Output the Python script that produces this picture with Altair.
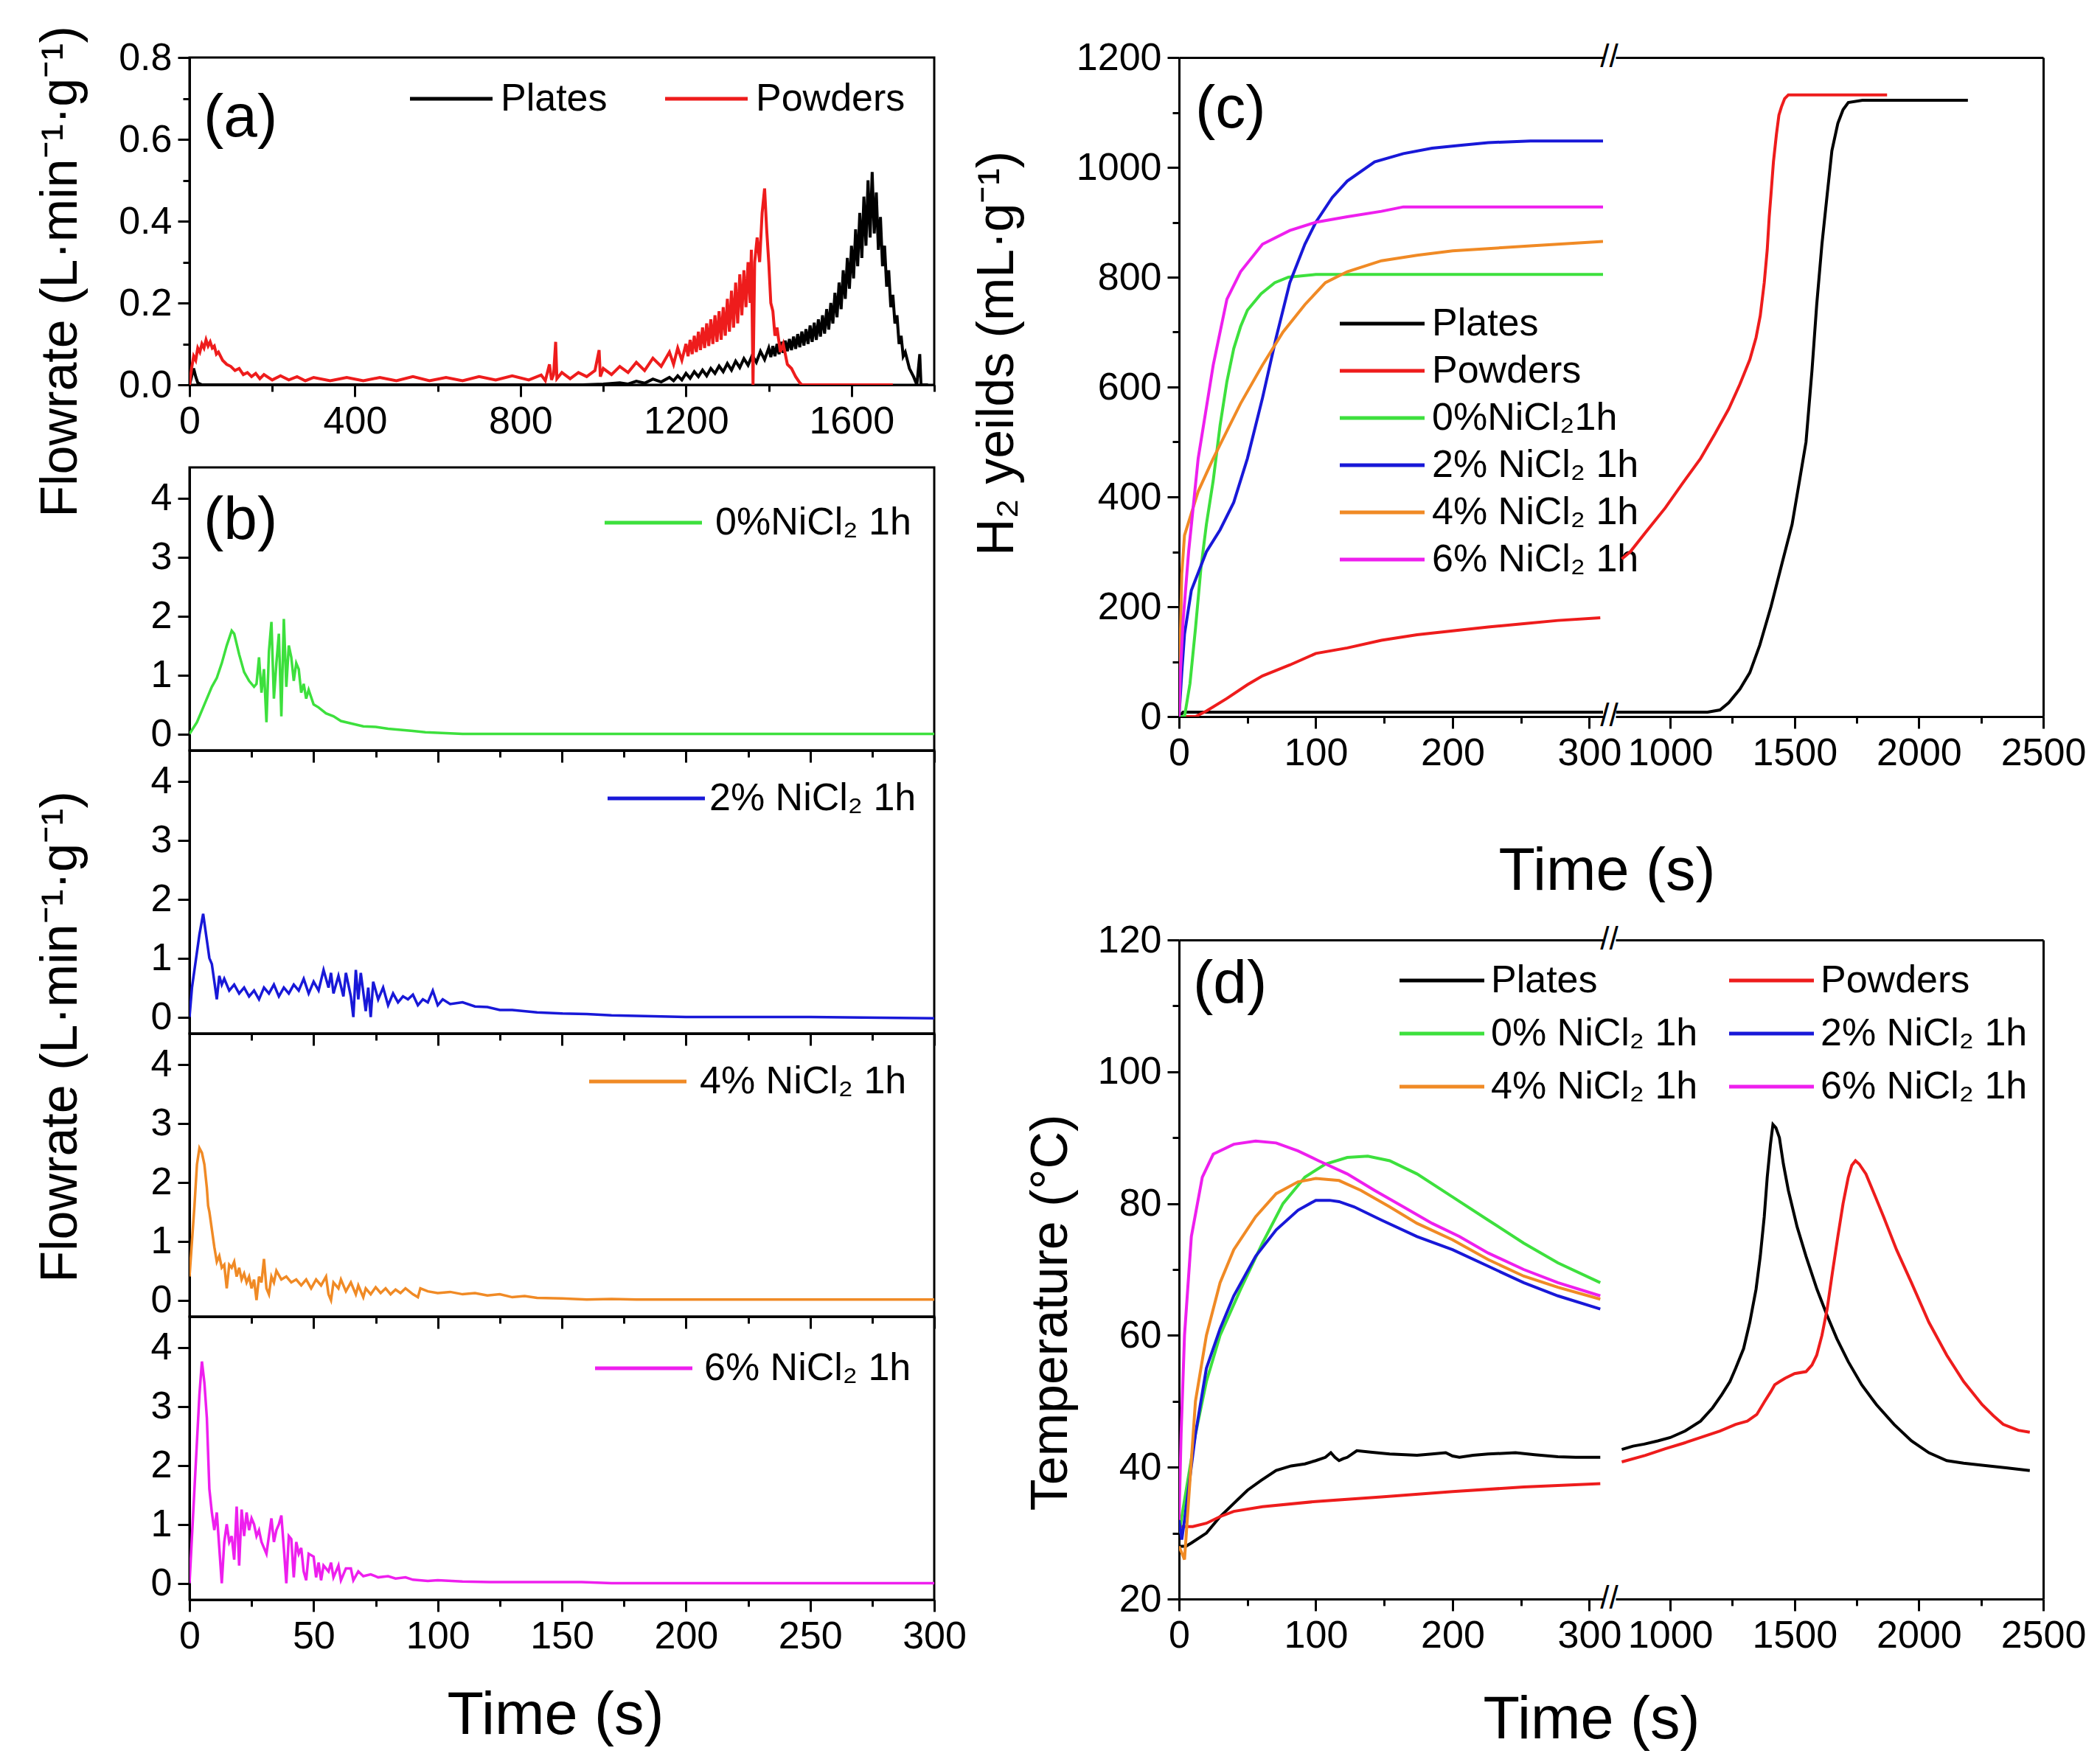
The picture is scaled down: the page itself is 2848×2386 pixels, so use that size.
import json
import math
import altair as alt
import pandas as pd

FONT = "Liberation Sans"
BLACK = "#000000"
RED = "#ee1c1c"
GREEN = "#3de03d"
BLUE = "#1818d8"
ORANGE = "#f08a25"
MAGENTA = "#ee1fee"

NB = "\u00a0"

# ---------------- (a) flowrate, plates vs powders ----------------
A_SERIES = ["Plates", "Powders"]
A_PLATES = [(0, 0), (5, 0.02), (10, 0.04), (15, 0.02), (20, 0.005), (30, 0), (300, 0), (700, 0), (950, 0),
            (1000, 0.002), (1040, 0.005), (1060, 0.002), (1080, 0.009), (1100, 0.004), (1120, 0.014),
            (1140, 0.007), (1160, 0.018), (1170, 0.01), (1180, 0.022), (1190, 0.012), (1200, 0.028),
            (1210, 0.016), (1220, 0.032), (1230, 0.02), (1240, 0.036), (1250, 0.022), (1260, 0.04),
            (1270, 0.028), (1280, 0.046), (1290, 0.032), (1300, 0.052), (1310, 0.036), (1320, 0.058),
            (1330, 0.042), (1340, 0.064), (1350, 0.048), (1360, 0.072), (1370, 0.055), (1380, 0.082),
            (1390, 0.062), (1400, 0.09), (1405, 0.068), (1410, 0.095), (1415, 0.07), (1420, 0.1),
            (1425, 0.075), (1430, 0.105), (1435, 0.078), (1440, 0.108), (1445, 0.082), (1450, 0.112),
            (1455, 0.085), (1460, 0.118), (1465, 0.088), (1470, 0.124), (1475, 0.092), (1480, 0.13),
            (1485, 0.096), (1490, 0.136), (1495, 0.1), (1500, 0.145), (1505, 0.105), (1510, 0.152),
            (1515, 0.11), (1520, 0.16), (1525, 0.118), (1530, 0.17), (1535, 0.125), (1540, 0.185),
            (1545, 0.135), (1550, 0.2), (1555, 0.15), (1560, 0.225), (1565, 0.165), (1570, 0.25),
            (1575, 0.185), (1580, 0.28), (1585, 0.21), (1590, 0.31), (1595, 0.235), (1600, 0.34),
            (1605, 0.26), (1610, 0.38), (1615, 0.29), (1620, 0.42), (1625, 0.31), (1630, 0.46),
            (1635, 0.34), (1640, 0.5), (1645, 0.36), (1650, 0.52), (1655, 0.37), (1660, 0.47),
            (1665, 0.33), (1670, 0.41), (1675, 0.29), (1680, 0.34), (1685, 0.24), (1690, 0.28),
            (1695, 0.19), (1700, 0.22), (1705, 0.15), (1710, 0.17), (1715, 0.1), (1720, 0.12),
            (1725, 0.07), (1730, 0.08), (1740, 0.04), (1750, 0.02), (1758, 0), (1765, 0.075),
            (1768, 0), (1785, 0)]
A_POWDERS = [(0, 0), (5, 0.04), (10, 0.07), (15, 0.06), (20, 0.09), (25, 0.08), (30, 0.1), (35, 0.09),
             (40, 0.11), (45, 0.095), (50, 0.105), (55, 0.09), (60, 0.095), (65, 0.075), (70, 0.08),
             (80, 0.06), (90, 0.05), (100, 0.045), (110, 0.035), (120, 0.04), (130, 0.025), (140, 0.03),
             (150, 0.02), (160, 0.028), (170, 0.015), (180, 0.025), (200, 0.012), (220, 0.022),
             (240, 0.012), (260, 0.02), (280, 0.01), (300, 0.018), (340, 0.01), (380, 0.018),
             (420, 0.01), (460, 0.018), (500, 0.01), (540, 0.02), (580, 0.01), (620, 0.018),
             (660, 0.01), (700, 0.02), (740, 0.012), (780, 0.022), (820, 0.012), (850, 0.024),
             (860, 0.01), (870, 0.05), (875, 0.012), (880, 0.025), (885, 0.105), (888, 0.015),
             (900, 0.03), (920, 0.015), (940, 0.03), (960, 0.02), (980, 0.035), (990, 0.085),
             (993, 0.02), (1000, 0.04), (1020, 0.025), (1040, 0.045), (1060, 0.03), (1080, 0.055),
             (1100, 0.035), (1120, 0.065), (1140, 0.045), (1160, 0.08), (1170, 0.05), (1180, 0.09),
             (1190, 0.06), (1200, 0.1), (1205, 0.07), (1210, 0.11), (1215, 0.075), (1220, 0.12),
             (1225, 0.08), (1230, 0.13), (1235, 0.085), (1240, 0.14), (1245, 0.09), (1250, 0.15),
             (1255, 0.095), (1260, 0.16), (1265, 0.1), (1270, 0.17), (1275, 0.105), (1280, 0.18),
             (1285, 0.11), (1290, 0.19), (1295, 0.12), (1300, 0.21), (1305, 0.13), (1310, 0.23),
             (1315, 0.14), (1320, 0.25), (1325, 0.15), (1330, 0.27), (1335, 0.17), (1340, 0.28),
             (1345, 0.19), (1350, 0.3), (1355, 0.2), (1358, 0.33), (1362, 0.0), (1366, 0.3),
             (1372, 0.36), (1378, 0.3), (1384, 0.42), (1390, 0.48), (1395, 0.38), (1400, 0.3),
             (1405, 0.2), (1410, 0.18), (1415, 0.12), (1420, 0.14), (1428, 0.08), (1435, 0.1),
             (1445, 0.05), (1455, 0.04), (1465, 0.02), (1475, 0.005), (1480, 0), (1700, 0)]

# ---------------- (b) flowrate, NiCl2 samples ----------------
B_LABELS = [NB + "0%NiCl₂ 1h", "2% NiCl₂ 1h", "4% NiCl₂ 1h", "6% NiCl₂ 1h"]
B_COLORS = [GREEN, BLUE, ORANGE, MAGENTA]
B0 = [(0, 0), (3, 0.2), (6, 0.5), (9, 0.8), (11, 0.95), (13, 1.2), (15, 1.5), (17, 1.75), (18, 1.7),
      (20, 1.35), (22, 1.05), (24, 0.9), (26, 0.8), (27, 0.85), (28, 1.3), (29, 0.7), (30, 1.1),
      (31, 0.2), (32, 1.4), (33, 1.9), (34, 0.6), (35, 1.2), (36, 1.7), (37, 0.3), (38, 1.95),
      (39, 0.8), (40, 1.5), (41, 1.3), (42, 0.9), (43, 1.2), (44, 1.1), (45, 0.7), (46, 0.85),
      (47, 0.6), (48, 0.75), (50, 0.5), (52, 0.45), (55, 0.35), (58, 0.3), (61, 0.22), (65, 0.18),
      (70, 0.13), (75, 0.12), (80, 0.09), (85, 0.07), (90, 0.05), (95, 0.03), (100, 0.02),
      (105, 0.01), (110, 0), (150, 0), (200, 0), (250, 0), (300, 0)]
B2 = [(0, 0), (1, 0.5), (3, 1.1), (4, 1.4), (5.5, 1.75), (7, 1.3), (8, 1.0), (9, 0.9), (10, 0.6),
      (11, 0.3), (12, 0.7), (13, 0.55), (14, 0.65), (16, 0.45), (18, 0.55), (20, 0.4), (22, 0.5),
      (24, 0.35), (26, 0.45), (28, 0.3), (30, 0.5), (32, 0.4), (34, 0.55), (36, 0.35), (38, 0.5),
      (40, 0.4), (42, 0.55), (44, 0.45), (46, 0.65), (48, 0.4), (50, 0.6), (52, 0.45), (54, 0.8),
      (56, 0.5), (57, 0.75), (58, 0.4), (60, 0.7), (62, 0.35), (63, 0.75), (65, 0.35), (66, 0.0),
      (67, 0.8), (68, 0.3), (69, 0.75), (71, 0.1), (72, 0.5), (73, 0.0), (74, 0.6), (76, 0.3),
      (78, 0.5), (80, 0.2), (82, 0.4), (84, 0.25), (86, 0.35), (88, 0.3), (90, 0.38), (92, 0.2),
      (94, 0.3), (96, 0.25), (98, 0.45), (100, 0.2), (102, 0.3), (105, 0.22), (110, 0.25),
      (115, 0.18), (120, 0.17), (125, 0.12), (130, 0.12), (140, 0.08), (150, 0.06), (160, 0.05),
      (170, 0.03), (180, 0.02), (200, 0.0), (250, 0.0), (300, -0.02)]
B4 = [(0, 0.4), (1, 1.0), (2, 1.6), (3, 2.3), (4, 2.58), (5, 2.5), (6, 2.3), (7, 1.9), (7.5, 1.6),
      (8, 1.5), (9, 1.2), (10, 0.9), (11, 0.65), (12, 0.75), (13, 0.55), (14, 0.6), (15, 0.2),
      (16, 0.6), (17, 0.55), (18, 0.65), (19, 0.4), (20, 0.55), (21, 0.35), (22, 0.45), (23, 0.3),
      (24, 0.4), (25, 0.2), (26, 0.35), (27, 0.0), (28, 0.4), (29, 0.3), (30, 0.7), (31, 0.2),
      (32, 0.1), (33, 0.4), (34, 0.3), (35, 0.5), (37, 0.35), (39, 0.4), (41, 0.3), (43, 0.35),
      (45, 0.25), (47, 0.35), (49, 0.2), (51, 0.35), (53, 0.25), (55, 0.4), (56, 0.1), (57, 0.0),
      (58, 0.3), (60, 0.2), (61, 0.35), (63, 0.15), (65, 0.3), (67, 0.1), (68, 0.25), (70, 0.05),
      (71, 0.2), (73, 0.1), (75, 0.22), (77, 0.12), (79, 0.2), (81, 0.1), (83, 0.18), (85, 0.12),
      (87, 0.2), (90, 0.1), (92, 0.05), (93, 0.2), (96, 0.15), (100, 0.12), (105, 0.14),
      (110, 0.1), (115, 0.12), (120, 0.08), (125, 0.1), (130, 0.05), (135, 0.07), (140, 0.04),
      (150, 0.03), (160, 0.01), (170, 0.02), (180, 0.01), (200, 0.01), (250, 0.01), (300, 0.01)]
B6 = [(0, 0), (1, 0.8), (2, 1.6), (3, 2.4), (4, 3.2), (5, 3.76), (6, 3.4), (7, 2.8), (8, 1.6),
      (9, 1.2), (10, 0.9), (11, 1.2), (12, 0.6), (13, 0.0), (14, 0.7), (15, 1.0), (16, 0.7),
      (17, 0.8), (18, 0.4), (19, 1.3), (20, 0.3), (21, 1.25), (22, 0.8), (23, 1.2), (24, 0.9),
      (25, 1.1), (26, 1.0), (27, 0.8), (28, 0.9), (29, 0.7), (30, 0.6), (31, 0.5), (32, 0.8),
      (33, 1.1), (34, 0.7), (35, 0.9), (36, 1.0), (37, 1.15), (38, 0.6), (39, 0.0), (40, 0.8),
      (41, 0.75), (42, 0.1), (43, 0.7), (44, 0.5), (45, 0.6), (46, 0.2), (47, 0.05), (48, 0.5),
      (50, 0.45), (51, 0.1), (52, 0.35), (53, 0.05), (54, 0.3), (56, 0.2), (57, 0.35), (58, 0.1),
      (60, 0.3), (61, 0.05), (63, 0.25), (65, 0.25), (66, 0.05), (68, 0.2), (70, 0.12), (73, 0.15),
      (76, 0.1), (80, 0.12), (83, 0.08), (87, 0.1), (90, 0.06), (96, 0.04), (100, 0.05),
      (110, 0.03), (121, 0.02), (140, 0.02), (158, 0.02), (170, 0.0), (200, 0.0), (250, 0.0),
      (300, 0.0)]

# ---------------- (c) H2 yields ----------------
C_LABELS = ["Plates", "Powders", NB + "0%NiCl₂1h", "2% NiCl₂ 1h", "4% NiCl₂ 1h", "6% NiCl₂ 1h"]
C_PLATES = [(0, 0), (3, 8), (50, 8), (150, 8), (250, 8), (310, 8)]
C_POWDERS = [(0, 0), (12, 0), (20, 10), (35, 33), (50, 58), (61, 74), (71, 84), (81, 94), (100, 115),
             (123, 125), (148, 139), (174, 149), (200, 156), (226, 163), (252, 169), (277, 175),
             (308, 180)]
C_0 = [(0, 0), (4, 0), (8, 60), (12, 160), (16, 270), (20, 350), (25, 430), (30, 530), (35, 610),
       (40, 670), (45, 710), (50, 740), (60, 770), (70, 790), (80, 800), (100, 805), (310, 805)]
C_2 = [(0, 0), (2, 80), (4, 150), (9, 230), (20, 300), (30, 340), (40, 390), (50, 470), (61, 580),
       (71, 690), (81, 790), (92, 860), (100, 900), (112, 945), (123, 975), (143, 1010), (164, 1025),
       (185, 1035), (205, 1040), (226, 1045), (257, 1048), (310, 1048)]
C_4 = [(0, 0), (1, 150), (2, 260), (4, 330), (14, 410), (25, 470), (35, 520), (45, 570), (61, 640),
       (76, 700), (92, 750), (107, 790), (123, 810), (148, 830), (174, 840), (200, 848), (226, 852),
       (257, 857), (310, 865)]
C_6 = [(0, 0), (1, 80), (3, 175), (7, 300), (14, 470), (25, 640), (35, 760), (45, 810), (61, 860),
       (81, 885), (100, 900), (123, 910), (148, 920), (164, 928), (310, 928)]
C_PLATES_LATE = [(782, 8), (1150, 8), (1200, 12), (1235, 25), (1280, 50), (1320, 80), (1360, 130),
                 (1405, 200), (1450, 280), (1490, 350), (1520, 430), (1546, 500), (1570, 630),
                 (1589, 750), (1610, 860), (1631, 950), (1650, 1030), (1674, 1080), (1695, 1105),
                 (1716, 1118), (1773, 1122), (2197, 1122)]
C_POWDERS_LATE = [(805, 287), (839, 300), (900, 335), (980, 380), (1050, 425), (1122, 470),
                  (1180, 515), (1235, 560), (1280, 605), (1320, 650), (1345, 690), (1362, 730),
                  (1378, 790), (1390, 850), (1398, 910), (1405, 950), (1415, 1010), (1427, 1060),
                  (1437, 1095), (1447, 1110), (1460, 1125), (1475, 1132), (1872, 1132)]

# ---------------- (d) temperature ----------------
D_LABELS = ["Plates", "Powders", NB + "0% NiCl₂ 1h", "2% NiCl₂ 1h", NB + "4% NiCl₂ 1h", "6% NiCl₂ 1h"]
D_PLATES = [(0, 28), (5, 28), (9, 28.5), (20, 30), (30, 32.5), (40, 34.5), (50, 36.5), (60, 38),
            (71, 39.5), (82, 40.2), (92, 40.5), (100, 41), (107, 41.5), (111, 42.2), (114, 41.5),
            (117, 41), (120, 41.3), (123, 41.5), (130, 42.5), (140, 42.3), (154, 42), (174, 41.8),
            (185, 42), (195, 42.2), (200, 41.7), (205, 41.5), (215, 41.8), (226, 42), (246, 42.2),
            (260, 41.9), (277, 41.6), (290, 41.5), (308, 41.5)]
D_POWDERS = [(0, 31), (10, 31), (20, 31.5), (30, 32.5), (40, 33.3), (61, 34), (100, 34.8), (148, 35.5),
             (200, 36.3), (252, 37), (308, 37.5)]
D_0 = [(0, 30), (4, 35), (12, 45), (20, 53), (30, 60), (45, 67), (61, 74), (76, 80), (92, 84),
       (107, 86), (123, 87), (138, 87.2), (154, 86.5), (174, 84.5), (200, 81), (226, 77.5),
       (252, 74), (277, 71), (308, 68)]
D_2 = [(0, 32), (2, 29), (4, 32), (12, 45), (20, 55), (30, 61), (40, 66), (56, 72), (71, 76), (87, 79),
       (100, 80.5), (110, 80.5), (117, 80.3), (128, 79.5), (148, 77.5), (174, 75), (200, 73),
       (226, 70.5), (252, 68), (277, 66), (308, 64)]
D_4 = [(0, 28), (2, 27), (4, 26), (7, 35), (12, 50), (20, 60), (30, 68), (40, 73), (56, 78), (71, 81.5),
       (87, 83.3), (100, 83.8), (117, 83.5), (133, 82), (154, 79.5), (174, 77), (200, 74.5),
       (226, 71.5), (252, 69), (277, 67.3), (308, 65.5)]
D_6 = [(0, 32), (1.5, 45), (4, 60), (9, 75), (17, 84), (25, 87.5), (40, 89), (56, 89.5), (71, 89.2),
       (87, 88), (102, 86.5), (123, 84.5), (143, 82), (164, 79.5), (185, 77), (205, 75), (226, 72.5),
       (252, 70), (277, 68), (308, 66)]
D_PLATES_LATE = [(805, 42.7), (850, 43.2), (895, 43.5), (950, 44), (1000, 44.5), (1060, 45.5),
                 (1122, 47), (1170, 49), (1207, 51), (1240, 53), (1263, 55), (1295, 58), (1320, 62),
                 (1345, 67), (1362, 72), (1378, 78), (1390, 84), (1403, 89), (1413, 92), (1425, 91.5),
                 (1439, 90), (1455, 86), (1475, 82), (1510, 76.5), (1546, 72), (1590, 67), (1631, 63),
                 (1670, 59.5), (1716, 56), (1770, 52.5), (1829, 49.5), (1900, 46.5), (1970, 44),
                 (2040, 42.2), (2112, 41), (2180, 40.6), (2254, 40.3), (2350, 39.9), (2446, 39.5)]
D_POWDERS_LATE = [(805, 40.8), (900, 41.8), (980, 42.8), (1050, 43.6), (1122, 44.5), (1200, 45.5),
                  (1263, 46.5), (1310, 47), (1348, 48), (1380, 50), (1405, 51.5), (1420, 52.5),
                  (1440, 53), (1462, 53.5), (1500, 54.2), (1546, 54.5), (1570, 55.5), (1589, 57),
                  (1610, 60), (1631, 64), (1652, 69.5), (1674, 75), (1695, 80), (1716, 84),
                  (1730, 85.8), (1745, 86.5), (1760, 86), (1787, 84.5), (1820, 81.5), (1858, 78),
                  (1910, 73), (1970, 68), (2040, 62), (2112, 57), (2180, 53), (2254, 49.5),
                  (2300, 47.8), (2339, 46.5), (2400, 45.6), (2446, 45.3)]

COLORS6 = [BLACK, RED, GREEN, BLUE, ORANGE, MAGENTA]


def to_df(series):
    rows = [{"t": t, "v": v, "s": name} for name, pts in series for t, v in pts]
    return pd.DataFrame(rows)


def qaxis(major, minor, labels=True, fmt="d", **kw):
    vals = sorted(major + minor)
    test = "indexof(%s, datum.value) >= 0" % json.dumps(major)
    args = dict(values=vals, grid=False, labels=labels, labelFlush=False, labelOverlap=False,
                tickSize={"condition": {"test": test, "value": 16}, "value": 9}, format=fmt)
    if labels:
        args["labelExpr"] = "%s ? datum.label : ''" % test
    args.update(kw)
    return alt.Axis(**args)


def legend(x, yc, L, gap, fs=52, direction="vertical", columns=None, rowPadding=10, columnPadding=20):
    size = (L / 5.0) ** 2
    base = math.ceil(math.sqrt(size) + 5)
    kw = dict(orient="none", legendX=x, legendY=yc - base / 2.0, direction=direction, title=None,
              symbolType="M0,0H10", symbolSize=size, symbolStrokeWidth=5, symbolOffset=-base / 2.0,
              labelOffset=L + gap - base, labelFont=FONT, labelFontSize=fs, labelColor="black",
              labelLimit=0, padding=0, rowPadding=rowPadding, columnPadding=columnPadding)
    if columns:
        kw["columns"] = columns
    return alt.Legend(**kw)


def text_layer(txt, x, y, size=82, align="left"):
    return alt.Chart(pd.DataFrame({"lab": [txt]})).mark_text(
        font=FONT, fontSize=size, align=align, baseline="middle", color="black"
    ).encode(x=alt.value(x), y=alt.value(y), text="lab:N")


def top_axis_layer(df, scale):
    return alt.Chart(df).mark_point(opacity=0, size=1).encode(
        x=alt.X("t:Q", scale=scale, axis=alt.Axis(orient="top", labels=False, ticks=False,
                                                   title=None, grid=False, domain=True)))


YT = 70   # y-title font size
XT = 81   # x-title font size

# ---------------- panel (a) ----------------
a_df = to_df([("Plates", A_PLATES), ("Powders", A_POWDERS)])
a_lines = alt.Chart(a_df).mark_line(strokeWidth=4, clip=True).encode(
    x=alt.X("t:Q", scale=alt.Scale(domain=[0, 1800], nice=False, zero=False),
            axis=qaxis([0, 400, 800, 1200, 1600], [200, 600, 1000, 1400, 1800], title=None)),
    y=alt.Y("v:Q", scale=alt.Scale(domain=[0, 0.8], nice=False),
            axis=qaxis([0, 0.2, 0.4, 0.6, 0.8], [0.1, 0.3, 0.5, 0.7], fmt=".1f",
                       title="Flowrate (L·min⁻¹·g⁻¹)", titleX=-175, titleY=290,
                       titleBaseline="middle", titleAngle=270, titleFontSize=YT)),
    color=alt.Color("s:N", scale=alt.Scale(domain=A_SERIES, range=[BLACK, RED]),
                    legend=legend(287, 44, 112, 13, direction="horizontal", columnPadding=66)),
)
panel_a = alt.layer(a_lines, text_layer("(a)", 19, 82)).properties(width=1010, height=444)

# ---------------- panel (b) ----------------
B_DATA = [B0, B2, B4, B6]
B_LEG = [(553, 65, 24), (557, 55, 12), (532, 55, 24), (540, 60, 22)]
b_panels = []
for i in range(4):
    df = to_df([(B_LABELS[i], B_DATA[i])])
    last = i == 3
    if last:
        xax = qaxis([0, 50, 100, 150, 200, 250, 300], [25, 75, 125, 175, 225, 275],
                    title="Time (s)", titleFontSize=XT, titleX=496, titleY=181,
                    titleBaseline="alphabetic", titleAlign="center")
    else:
        xax = qaxis([0, 50, 100, 150, 200, 250, 300], [25, 75, 125, 175, 225, 275],
                    labels=False, title=None)
    if i == 1:
        yax = qaxis([0, 1, 2, 3, 4], [0.5, 1.5, 2.5, 3.5], title="Flowrate (L·min⁻¹·g⁻¹)",
                    titleX=-175, titleY=388, titleBaseline="middle", titleAngle=270, titleFontSize=YT)
    else:
        yax = qaxis([0, 1, 2, 3, 4], [0.5, 1.5, 2.5, 3.5], title=None)
    lines = alt.Chart(df).mark_line(strokeWidth=3.5, clip=True).encode(
        x=alt.X("t:Q", scale=alt.Scale(domain=[0, 300], nice=False, zero=False), axis=xax),
        y=alt.Y("v:Q", scale=alt.Scale(domain=[-0.28, 4.52], nice=False, zero=False), axis=yax),
        color=alt.Color("s:N", scale=alt.Scale(domain=[B_LABELS[i]], range=[B_COLORS[i]]),
                        legend=legend(B_LEG[i][0], B_LEG[i][1], 132, B_LEG[i][2])),
    )
    layers = [lines]
    if i == 0:
        layers.append(text_layer("(b)", 19, 72))
    b_panels.append(alt.layer(*layers).properties(width=1010, height=384))

b_col = alt.vconcat(*b_panels, spacing=0, bounds="flush").resolve_scale(
    color="independent", x="independent", y="independent").resolve_legend(color="independent")

left_col = alt.vconcat(panel_a, b_col, spacing=112, bounds="flush").resolve_scale(
    color="independent", x="independent", y="independent").resolve_legend(color="independent")


# ---------------- broken-axis panels (c) and (d) ----------------
def broken_panel(early, late, labels, ydom, ymaj, ymin, ytitle, ytx, yty, xtx, xty, panel_lab, lab_xy,
                 leg, wl=575, wr=580, h=894, gapw=17):
    sx_l = alt.Scale(domain=[0, 310], nice=False, zero=False)
    sx_r = alt.Scale(domain=[780, 2500], nice=False, zero=False)
    sy = alt.Scale(domain=ydom, nice=False, zero=False)
    df_l = to_df(early)
    df_r = to_df(late)
    left_lines = alt.Chart(df_l).mark_line(strokeWidth=4, clip=True).encode(
        x=alt.X("t:Q", scale=sx_l,
                axis=qaxis([0, 100, 200, 300], [50, 150, 250], title="Time (s)", titleFontSize=XT,
                           titleX=xtx, titleY=xty, titleBaseline="alphabetic", titleAlign="center")),
        y=alt.Y("v:Q", scale=sy, axis=qaxis(ymaj, ymin, title=ytitle, titleX=ytx, titleY=yty,
                                            titleBaseline="middle", titleAngle=270, titleFontSize=YT)),
        color=alt.Color("s:N", scale=alt.Scale(domain=labels, range=COLORS6), legend=leg),
    )
    left = alt.layer(
        left_lines, top_axis_layer(df_l, sx_l), text_layer(panel_lab, lab_xy[0], lab_xy[1]),
        text_layer("//", wl + gapw / 2.0, 0, size=44, align="center"),
        text_layer("//", wl + gapw / 2.0, h, size=44, align="center"),
    ).resolve_axis(x="independent").properties(width=wl, height=h, view=alt.ViewBackground(strokeOpacity=0))

    right_lines = alt.Chart(df_r).mark_line(strokeWidth=4, clip=True).encode(
        x=alt.X("t:Q", scale=sx_r, axis=qaxis([1000, 1500, 2000, 2500], [1250, 1750, 2250], title=None)),
        y=alt.Y("v:Q", scale=sy, axis=alt.Axis(orient="right", labels=False, ticks=False, title=None,
                                               grid=False, domain=True)),
        color=alt.Color("s:N", scale=alt.Scale(domain=["Plates", "Powders"], range=[BLACK, RED]),
                        legend=None),
    )
    right = alt.layer(right_lines, top_axis_layer(df_r, sx_r)).resolve_axis(x="independent").properties(
        width=wr, height=h, view=alt.ViewBackground(strokeOpacity=0))
    return alt.hconcat(left, right, spacing=gapw, bounds="flush").resolve_scale(
        color="independent", x="independent", y="independent").resolve_legend(color="independent")


panel_c = broken_panel(
    early=[(C_LABELS[0], C_PLATES), (C_LABELS[1], C_POWDERS), (C_LABELS[2], C_0), (C_LABELS[3], C_2),
           (C_LABELS[4], C_4), (C_LABELS[5], C_6)],
    late=[("Plates", C_PLATES_LATE), ("Powders", C_POWDERS_LATE)],
    labels=C_LABELS, ydom=[0, 1200], ymaj=[0, 200, 400, 600, 800, 1000, 1200],
    ymin=[100, 300, 500, 700, 900, 1100], ytitle="H₂ yeilds (mL·g⁻¹)", ytx=-247, yty=401,
    xtx=580, xty=234, panel_lab="(c)", lab_xy=(22, 70), leg=legend(206, 349, 115, 12, rowPadding=12))

panel_d = broken_panel(
    early=[(D_LABELS[0], D_PLATES), (D_LABELS[1], D_POWDERS), (D_LABELS[2], D_0), (D_LABELS[3], D_2),
           (D_LABELS[4], D_4), (D_LABELS[5], D_6)],
    late=[("Plates", D_PLATES_LATE), ("Powders", D_POWDERS_LATE)],
    labels=D_LABELS, ydom=[20, 120], ymaj=[20, 40, 60, 80, 100, 120], ymin=[30, 50, 70, 90, 110],
    ytitle="Temperature (°C)", ytx=-174, yty=505, xtx=559, xty=188, panel_lab="(d)", lab_xy=(19, 60),
    leg=legend(287, 43, 115, 11, direction="horizontal", columns=2, rowPadding=20, columnPadding=30))

# nested concat groups count as zero-size in a flush layout, so spacing here is origin-to-origin
right_col = alt.vconcat(panel_c, panel_d, spacing=1197, bounds="flush").resolve_scale(
    color="independent", x="independent", y="independent").resolve_legend(color="independent")

chart = alt.hconcat(left_col, right_col, spacing=1342, bounds="flush").resolve_scale(
    color="independent", x="independent", y="independent").resolve_legend(color="independent")

chart = chart.configure(
    padding={"left": 37, "top": 25, "right": 5, "bottom": 5}, background="white", font=FONT
).configure_view(
    stroke="black", strokeWidth=3
).configure_axis(
    domainColor="black", domainWidth=3, tickColor="black", tickWidth=3, labelFont=FONT,
    labelFontSize=52, labelColor="black", labelPadding=8, titleFont=FONT, titleFontWeight="normal",
    titleColor="black"
)

chart.save("out.html", embed_options={"renderer": "svg", "actions": False})
